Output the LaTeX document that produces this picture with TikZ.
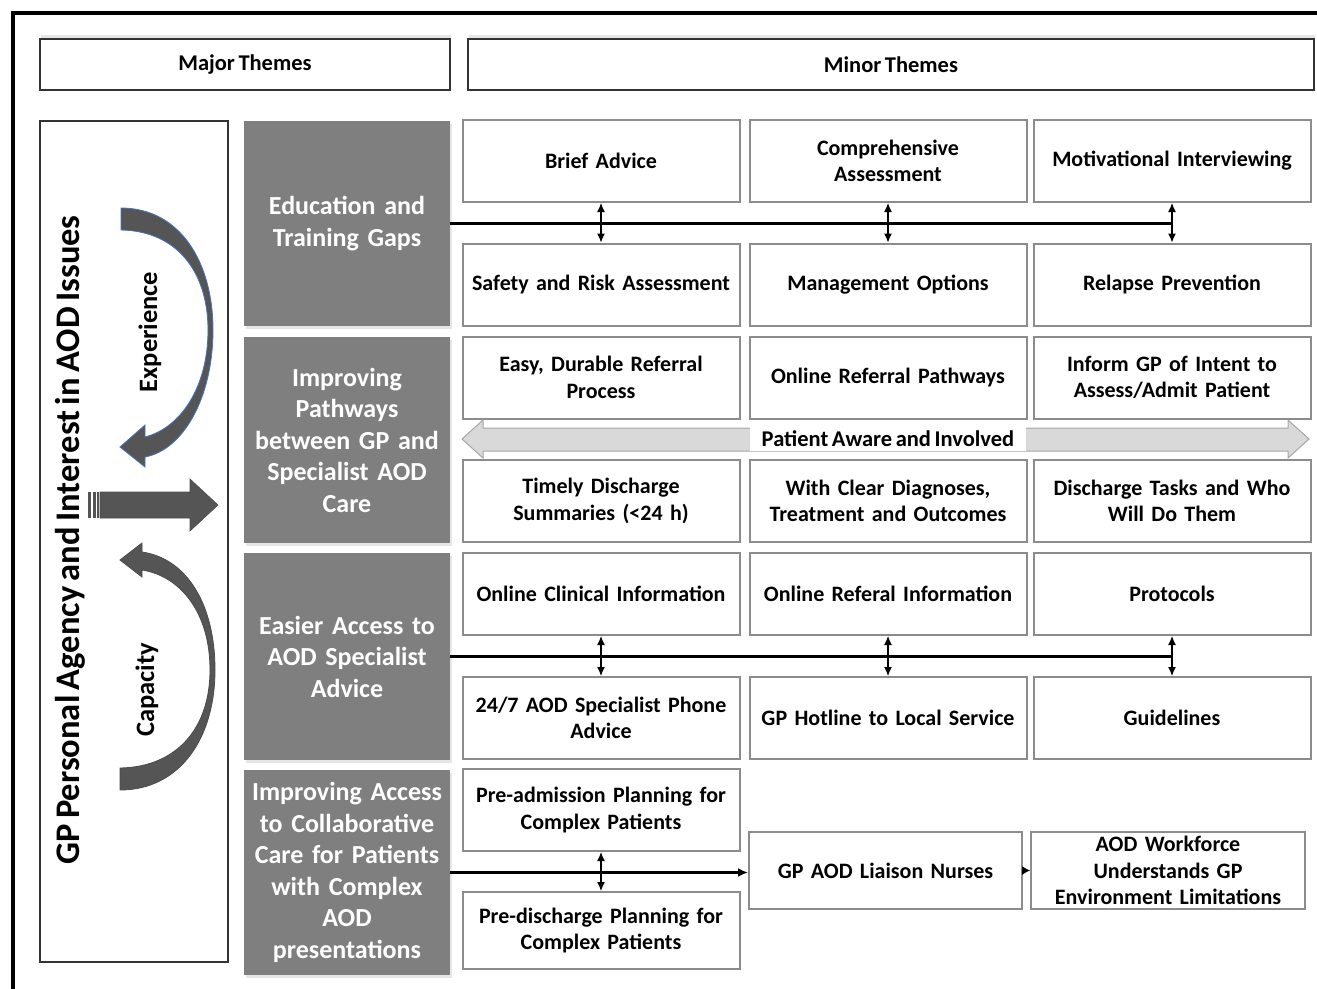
\documentclass[tikz,border=0pt]{standalone}
\usepackage{fontspec}
\setmainfont{Carlito}[WordSpace=0.7]
\usetikzlibrary{arrows.meta,shadows}

\definecolor{majorgrey}{HTML}{7F7F7F}
\definecolor{boxline}{HTML}{8C8C8C}
\definecolor{curvegrey}{HTML}{555555}
\definecolor{awaregrey}{HTML}{D9D9D9}
\definecolor{awareline}{HTML}{A6A6A6}
\definecolor{outlineblue}{HTML}{4472C4}

\tikzset{
  header/.style={draw=black!80, line width=1.2, fill=white, minimum height=51,
    font=\fontsize{22.5}{26}\selectfont\bfseries,
    drop shadow={opacity=0.2, shadow xshift=1pt, shadow yshift=4pt}},
  major/.style={fill=majorgrey, text=white, minimum width=206, text width=204,
    inner xsep=1, align=center, font=\fontsize{26}{31.5}\selectfont\bfseries,
    drop shadow={opacity=0.2, shadow xshift=2pt, shadow yshift=-3pt}},
  minor/.style={draw=boxline, line width=2, fill=white, minimum width=277,
    minimum height=82, text width=269, inner xsep=4, align=center,
    font=\fontsize{22}{26.5}\selectfont\bfseries},
  link/.style={line width=2.4},
  twoway/.style={line width=1.2, {Latex[length=9,width=8]}-{Latex[length=9,width=8]}},
  sidelabel/.style={rotate=90, font=\fontsize{26.5}{30}\selectfont\bfseries}
}

\begin{document}
\begin{tikzpicture}[x=1pt,y=-1pt]
  \useasboundingbox (0,0) rectangle (1317,988);
  \draw[line width=4] (13,995) -- (13,13) -- (1325,13);

  % headers
  \node[header, minimum width=410] (majorhead) at (245,64.5) {Major Themes};
  \node[header, minimum width=846] (minorhead) at (891,64.5) {Minor Themes};

  % left panel
  \node[draw=black!80, line width=1.2, minimum width=188, minimum height=841] (agency) at (134,541.5) {};
  \node[rotate=90, font=\fontsize{34.5}{40}\selectfont\bfseries] (agencytitle) at (70,540)
    {GP Personal Agency and Interest in AOD Issues};

  \filldraw[fill=curvegrey, draw=outlineblue, line width=0.8]
    (121,208) .. controls (180,208) and (213,262) .. (213,330)
    .. controls (213,398) and (183,450) .. (145,457)
    -- (145,467) -- (120,447) -- (145,425) -- (145,437)
    .. controls (180,428) and (208,388) .. (208,330)
    .. controls (208,272) and (177,231) .. (121,230) -- cycle;
  \filldraw[fill=curvegrey, draw=black!70, line width=0.8]
    (120,790) .. controls (180,790) and (215,738) .. (215,670)
    .. controls (215,602) and (185,558) .. (142,552)
    -- (142,543) -- (120,560) -- (142,577) -- (142,570)
    .. controls (180,576) and (210,612) .. (210,670)
    .. controls (210,728) and (177,767) .. (120,768) -- cycle;
  \filldraw[fill=curvegrey, draw=black!70, line width=0.6]
    (100,492) -- (190,492) -- (190,479) -- (218,505) -- (190,531)
    -- (190,518) -- (100,518) -- cycle;
  \fill[curvegrey] (88,492) rectangle (90.5,518);
  \fill[curvegrey] (92.5,492) rectangle (95.5,518);
  \fill[curvegrey] (97,492) rectangle (98.5,518);

  \node[sidelabel] (experience) at (150,332) {Experience};
  \node[sidelabel] (capacity) at (147,690) {Capacity};

  % major themes
  \node[major, minimum height=205] (edu) at (347,223.5) {Education and\\Training Gaps};
  \node[major, minimum height=206] (pathways) at (347,440)
    {Improving\\Pathways\\between GP and\\Specialist AOD\\Care};
  \node[major, minimum height=207] (access) at (347,656.5)
    {Easier Access to\\AOD Specialist\\Advice};
  \node[major, minimum height=205] (collab) at (347,872.5)
    {Improving Access\\to Collaborative\\Care for Patients\\with Complex\\AOD\\presentations};

  % minor themes
  \node[minor] (brief) at (601,161) {Brief Advice};
  \node[minor] (compass) at (888,161) {Comprehensive\\Assessment};
  \node[minor] (motiv) at (1172,161) {Motivational Interviewing};
  \node[minor] (safety) at (601,284.5) {Safety and Risk Assessment};
  \node[minor] (mgmt) at (888,284.5) {Management Options};
  \node[minor] (relapse) at (1172,284.5) {Relapse Prevention};

  \node[minor] (referral) at (601,377.5) {Easy, Durable Referral\\Process};
  \node[minor] (onlineref) at (888,377.5) {Online Referral Pathways};
  \node[minor] (inform) at (1172,377.5) {Inform GP of Intent to\\Assess/Admit Patient};
  \node[minor] (timely) at (601,501) {Timely Discharge\\Summaries (<24 h)};
  \node[minor] (diagnoses) at (888,501) {With Clear Diagnoses,\\Treatment and Outcomes};
  \node[minor] (tasks) at (1172,501) {Discharge Tasks and Who\\Will Do Them};

  \filldraw[fill=awaregrey, draw=awareline, line width=1]
    (462,439) -- (483,420) -- (483,428) -- (1288,428) -- (1288,420) -- (1309,439)
    -- (1288,458) -- (1288,451) -- (483,451) -- (483,458) -- cycle;
  \node[fill=white, minimum width=276, minimum height=24, inner sep=0,
    font=\fontsize{22.5}{26}\selectfont\bfseries] (aware) at (888,439) {Patient Aware and Involved};

  \node[minor] (clininfo) at (601,594) {Online Clinical Information};
  \node[minor] (refinfo) at (888,594) {Online Referal Information};
  \node[minor] (protocols) at (1172,594) {Protocols};
  \node[minor] (phone) at (601,718) {24/7 AOD Specialist Phone\\Advice};
  \node[minor] (hotline) at (888,718) {GP Hotline to Local Service};
  \node[minor] (guidelines) at (1172,718) {Guidelines};

  \node[minor] (preadm) at (601,810) {Pre-admission Planning for\\Complex Patients};
  \node[minor, minimum height=77] (predis) at (601,930.5) {Pre-discharge Planning for\\Complex Patients};
  \node[minor, minimum width=273, text width=265, minimum height=77] (liaison) at (885.5,870.5) {GP AOD Liaison Nurses};
  \node[minor, minimum width=274, text width=266, minimum height=77] (workforce) at (1168,870.5)
    {AOD Workforce\\Understands GP\\Environment Limitations};

  % connectors
  \draw[link] (edu.east) -- (edu.east -| motiv.south);
  \foreach \a/\b in {brief/safety,compass/mgmt,motiv/relapse}
    \draw[twoway] (\a.south) -- (\b.north);
  \draw[link] (access.east) -- (access.east -| protocols.south);
  \foreach \a/\b in {clininfo/phone,refinfo/hotline,protocols/guidelines}
    \draw[twoway] (\a.south) -- (\b.north);
  \draw[link, -{Latex[length=10,width=9]}] (collab.east) -- (collab.east -| liaison.west);
  \draw[twoway] (preadm.south) -- (predis.north);
  \draw[line width=1, -{Latex[length=8,width=9]}] (liaison.east) -- (workforce.west);
\end{tikzpicture}
\end{document}
